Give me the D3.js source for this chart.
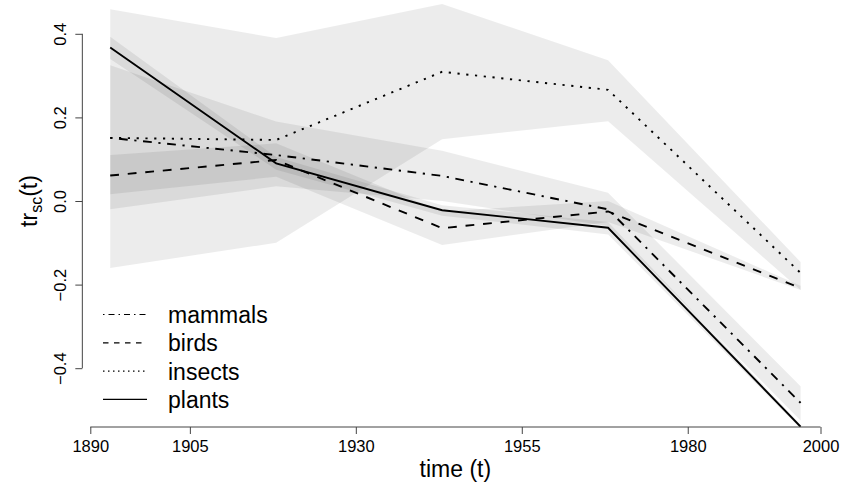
<!DOCTYPE html>
<html><head><meta charset="utf-8">
<script src="https://cdn.jsdelivr.net/npm/d3@7"></script>
<style>body{margin:0;background:#fff}svg{display:block}text{font-family:"Liberation Sans",Arial,sans-serif;fill:#000}</style>
</head><body><svg id="c" width="842" height="491"></svg>
<script>
const years = [1893, 1918, 1943, 1968, 1997];
const mammals = [0.151, 0.11, 0.06, -0.02, -0.483];
const birds = [0.061, 0.098, -0.065, -0.025, -0.208];
const insects = [0.151, 0.146, 0.309, 0.266, -0.172];
const plants = [0.367, 0.09, -0.022, -0.064, -0.54];
const mammalsLo = [-0.02, 0.035, 0.0, -0.06, -0.525];
const mammalsHi = [0.325, 0.19, 0.12, 0.02, -0.443];
const birdsLo = [0.016, 0.058, -0.105, -0.05, -0.213];
const birdsHi = [0.11, 0.138, -0.025, 0.0, -0.203];
const insectsLo = [-0.16, -0.10, 0.148, 0.191, -0.213];
const insectsHi = [0.459, 0.39, 0.471, 0.337, -0.146];
const plantsLo = [0.34, 0.075, -0.035, -0.08, -0.545];
const plantsHi = [0.393, 0.105, -0.01, -0.05, -0.535];
const xTicks = [1890, 1905, 1930, 1955, 1980, 2000];
const yTicks = [-0.4, -0.2, 0.0, 0.2, 0.4];
const seriesNames = ["mammals", "birds", "insects", "plants"];

const svg = d3.select("#c");
const x = d3.scaleLinear().domain([1890, 2000]).range([90.3, 820.5]);
const y = d3.scaleLinear().domain([-0.4, 0.4]).range([368.2, 33.8]);
const plotL = x(1888.8), plotR = x(2001.2), plotB = 427, plotT = 0;

svg.append("defs").append("clipPath").attr("id", "clip").append("rect")
  .attr("x", plotL).attr("y", plotT).attr("width", plotR - plotL).attr("height", plotB - plotT);

const g = svg.append("g").attr("clip-path", "url(#clip)");
const series = [
  {name: "mammals", v: mammals, lo: mammalsLo, hi: mammalsHi, dash: "2.2,6.6,8.8,6.6", ldash: "1.5,4,6,4"},
  {name: "birds", v: birds, lo: birdsLo, hi: birdsHi, dash: "8.8,8.8", ldash: "5.5,5.5"},
  {name: "insects", v: insects, lo: insectsLo, hi: insectsHi, dash: "2.2,6.6", ldash: "1.5,3.5"},
  {name: "plants", v: plants, lo: plantsLo, hi: plantsHi, dash: null, ldash: null}
];
const area = d3.area().x((d, i) => x(years[i])).y0(d => y(d[0])).y1(d => y(d[1]));
series.forEach(s => {
  g.append("path").datum(s.lo.map((l, i) => [l, s.hi[i]]))
    .attr("d", area).attr("fill", "rgba(0,0,0,0.075)").attr("stroke", "none");
});
const line = d3.line().x((d, i) => x(years[i])).y(d => y(d));
series.forEach(s => {
  g.append("path").datum(s.v).attr("d", line).attr("fill", "none")
    .attr("stroke", "#000").attr("stroke-width", 1.9)
    .attr("stroke-dasharray", s.dash);
});

// axes
const xa = svg.append("g").attr("transform", `translate(0,${plotB})`)
  .call(d3.axisBottom(x).tickValues(xTicks).tickFormat(d3.format("d")).tickSize(7).tickSizeOuter(0));
xa.select(".domain").attr("stroke", "#444").attr("d", `M${x(1890)},0H${x(2000)}`);
xa.selectAll(".tick line").attr("stroke", "#444");
xa.selectAll(".tick text").attr("font-size", 16.5).attr("y", 13).attr("dy", "0.71em")
  .attr("font-family", "Liberation Sans, Arial, sans-serif").attr("fill", "#000");

const ya = svg.append("g").attr("transform", `translate(${plotL},0)`)
  .call(d3.axisLeft(y).tickValues(yTicks).tickFormat(d => d === 0 ? "0.0" : d3.format(".1f")(d).replace("-", "\u2212")).tickSize(7).tickSizeOuter(0));
ya.select(".domain").attr("stroke", "#444").attr("d", `M0,${y(-0.4)}V${y(0.4)}`);
ya.selectAll(".tick line").attr("stroke", "#444");
ya.selectAll(".tick text").attr("font-size", 16.5).attr("x", null).attr("dy", null)
  .attr("text-anchor", "middle").attr("transform", "translate(-16,0) rotate(-90)")
  .attr("font-family", "Liberation Sans, Arial, sans-serif").attr("fill", "#000");

svg.append("text").attr("x", (plotL + plotR) / 2).attr("y", 477).attr("text-anchor", "middle")
  .attr("font-size", 23).text("time (t)");
const yl = svg.append("text").attr("transform", "translate(37,201) rotate(-90)")
  .attr("text-anchor", "middle").attr("font-size", 23);
yl.append("tspan").text("tr");
yl.append("tspan").attr("font-size", 16).attr("dy", 5).text("sc");
yl.append("tspan").attr("dy", -5).text("(t)");

// legend
const leg = svg.append("g");
series.forEach((s, i) => {
  const ly = 314.5 + i * 28.3;
  leg.append("line").attr("x1", 103).attr("x2", 147).attr("y1", ly).attr("y2", ly)
    .attr("stroke", "#000").attr("stroke-width", 1.2).attr("stroke-dasharray", s.ldash);
  leg.append("text").attr("x", 168).attr("y", ly + 8.5).attr("font-size", 23).text(seriesNames[i]);
});
</script></body></html>
